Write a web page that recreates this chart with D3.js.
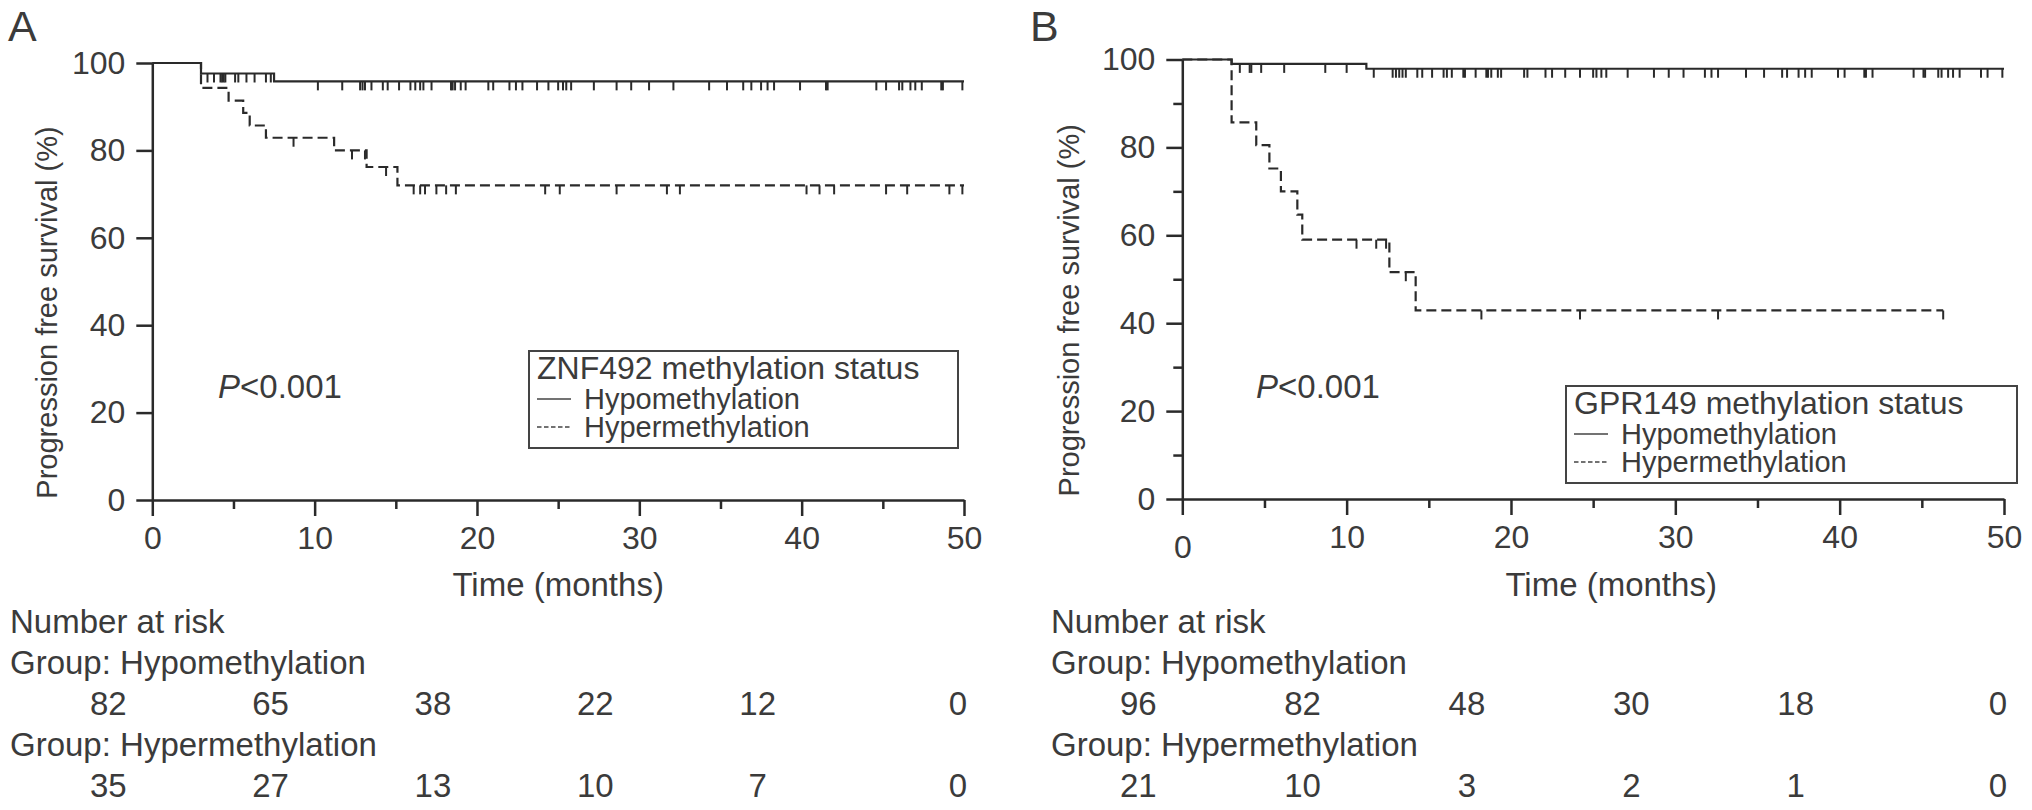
<!DOCTYPE html>
<html>
<head>
<meta charset="utf-8">
<script src="https://cdn.jsdelivr.net/npm/d3@7"></script>
<style>
  body { margin: 0; background: #fff; }
  svg { display: block; }
</style>
</head>
<body>
<div id="chart"></div>
<script>
// ---- data ----
const riskTimes = [0, 10, 20, 30, 40, 50];
const xTicks = [0, 10, 20, 30, 40, 50];
const xMinorTicks = [5, 15, 25, 35, 45];
const yTicks = [0, 20, 40, 60, 80, 100];
const yMinorTicks = [10, 30, 50, 70, 90];

// panel A (ZNF492)
const aHypoSteps = [[3, 97.6], [7.5, 95.8]];
const aHypoEnd = 50;
const aHypoCensor = [3.4, 3.8, 4.2, 4.3, 4.4, 4.5, 5.1, 5.3, 5.8, 6.3, 7.0, 7.3, 10.2, 11.7,
  12.8, 12.95, 13.1, 13.5, 14.2, 14.5, 15.2, 15.9, 16.2, 16.5, 16.7, 17.2, 18.4, 18.5, 18.65,
  19.0, 19.3, 20.7, 21.0, 22.0, 22.4, 22.8, 23.7, 24.4, 25.0, 25.3, 25.5, 25.8, 27.2, 28.6,
  29.5, 30.6, 32.1, 34.3, 35.4, 36.4, 36.9, 37.5, 37.9, 38.3, 39.9, 41.5, 41.6, 44.6, 45.2,
  46.0, 46.2, 46.7, 47.0, 47.4, 48.6, 48.7, 49.9];
const aHyperSteps = [[3, 94.3], [4.7, 91.4], [5.6, 88.6], [6.0, 85.7], [7.0, 82.9],
  [11.2, 80.0], [13.2, 76.2], [15.1, 72.0]];
const aHyperEnd = 50;
const aHyperCensor = [8.7, 12.3, 13.1, 14.4, 16.1, 16.5, 16.8, 17.5, 18.1, 18.7, 24.2, 25.1,
  28.6, 31.7, 32.5, 40.3, 41.1, 42.0, 45.2, 46.5, 49.1, 49.9];
const aRiskHypo = [82, 65, 38, 22, 12, 0];
const aRiskHyper = [35, 27, 13, 10, 7, 0];

// panel B (GPR149)
const bHypoSteps = [[3, 99.0], [11.2, 97.9]];
const bHypoEnd = 50;
const bHypoCensor = [3.5, 4.1, 4.2, 4.8, 6.2, 8.7, 10.0, 11.65, 12.8, 13.0, 13.2, 13.4, 13.6,
  14.3, 14.6, 15.2, 15.9, 16.1, 16.4, 17.1, 17.2, 17.85, 18.5, 18.6, 18.8, 19.2, 19.4, 20.8,
  21.0, 22.1, 22.5, 23.3, 24.2, 25.0, 25.2, 25.5, 25.8, 27.1, 28.7, 29.6, 30.5, 31.8, 32.2,
  32.6, 34.3, 35.4, 36.5, 36.8, 37.5, 37.9, 38.3, 39.9, 40.3, 41.5, 41.6, 42.0, 44.5, 45.1,
  45.2, 46.0, 46.2, 46.6, 46.9, 47.3, 48.6, 49.0, 49.9];
const bHyperSteps = [[3, 85.7], [4.5, 80.5], [5.3, 75.2], [6.0, 70.0], [7.0, 64.7],
  [7.3, 59.0], [12.6, 51.6], [14.2, 42.9]];
const bHyperEnd = 46.3;
const bHyperCensor = [10.6, 11.8, 12.4, 13.6, 18.2, 24.2, 32.6, 46.3];
const bRiskHypo = [96, 82, 48, 30, 18, 0];
const bRiskHyper = [21, 10, 3, 2, 1, 0];

const groupNames = ["Hypomethylation", "Hypermethylation"];

// ---- drawing ----
const W = 2032, H = 810;
const font = "'Liberation Sans', Arial, Helvetica, sans-serif";
const textColor = "#3b3b3b";
const lineColor = "#2a2a2a";
const fs = 33;

const svg = d3.select("#chart").append("svg")
  .attr("width", W)
  .attr("height", H)
  .attr("font-family", font);

function survivalAt(steps, t) {
  let s = 100;
  steps.forEach((d) => { if (d[0] <= t) s = d[1]; });
  return s;
}

function drawPanel(p) {
  const x = d3.scaleLinear().domain([0, 50]).range([p.left, p.right]);
  const y = d3.scaleLinear().domain([0, 100]).range([p.bottom, p.top]);
  const g = svg.append("g");

  // panel letter
  g.append("text")
    .attr("x", p.letterX).attr("y", 41)
    .attr("font-size", 43).attr("fill", textColor)
    .text(p.letter);

  // x axis
  const xAxis = g.append("g")
    .attr("transform", `translate(0,${p.bottom})`)
    .call(d3.axisBottom(x).tickValues(xTicks).tickSize(16).tickSizeOuter(0).tickPadding(10));
  g.append("g")
    .attr("transform", `translate(0,${p.bottom})`)
    .call(d3.axisBottom(x).tickValues(xMinorTicks).tickSize(9).tickFormat(""))
    .call((s) => s.select(".domain").remove());
  xAxis.selectAll("text").filter((d) => d === 0).attr("dy", `${0.71 + p.zeroDrop / 32}em`);

  // y axis
  g.append("g")
    .attr("transform", `translate(${p.left},0)`)
    .call(d3.axisLeft(y).tickValues(yTicks).tickSize(16).tickSizeOuter(0).tickPadding(11));
  if (p.minorY) {
    g.append("g")
      .attr("transform", `translate(${p.left},0)`)
      .call(d3.axisLeft(y).tickValues(yMinorTicks).tickSize(9).tickFormat(""))
      .call((s) => s.select(".domain").remove());
  }

  g.selectAll(".domain, .tick line")
    .attr("stroke", lineColor).attr("stroke-width", 2.5);
  g.selectAll(".tick text")
    .attr("font-size", 32).attr("font-family", font).attr("fill", textColor);

  // axis titles
  g.append("text")
    .attr("transform", `translate(${p.titleX},${(p.top + p.bottom) / 2 + 31}) rotate(-90)`)
    .attr("text-anchor", "middle").attr("dy", "0.35em")
    .attr("font-size", 29).attr("fill", textColor)
    .text("Progression free survival (%)");
  g.append("text")
    .attr("x", (p.left + p.right) / 2 + p.xTitleDx).attr("y", 596)
    .attr("text-anchor", "middle")
    .attr("font-size", fs).attr("fill", textColor)
    .text("Time (months)");

  // curves
  const line = d3.line()
    .x((d) => x(d[0])).y((d) => y(d[1]))
    .curve(d3.curveStepAfter);
  p.series.forEach((s) => {
    const pts = [[0, 100]].concat(s.steps);
    pts.push([s.end, s.steps[s.steps.length - 1][1]]);
    g.append("path")
      .datum(pts)
      .attr("d", line)
      .attr("fill", "none")
      .attr("stroke", lineColor)
      .attr("stroke-width", 2.2)
      .attr("stroke-dasharray", s.dashed ? "10,5" : null);
    g.selectAll(null)
      .data(s.censor)
      .join("line")
      .attr("x1", (t) => x(t)).attr("x2", (t) => x(t))
      .attr("y1", (t) => y(survivalAt(s.steps, t)))
      .attr("y2", (t) => y(survivalAt(s.steps, t)) + 9)
      .attr("stroke", lineColor)
      .attr("stroke-width", 2);
  });

  // p value
  const pv = g.append("text")
    .attr("x", p.pX).attr("y", 398)
    .attr("font-size", fs).attr("fill", textColor);
  pv.append("tspan").attr("font-style", "italic").text("P");
  pv.append("tspan").text("<0.001");

  // legend
  const lb = p.legend;
  g.append("rect")
    .attr("x", lb[0]).attr("y", lb[1])
    .attr("width", lb[2] - lb[0]).attr("height", lb[3] - lb[1])
    .attr("fill", "#fff").attr("stroke", "#444").attr("stroke-width", 2);
  g.append("text")
    .attr("x", lb[0] + 8).attr("y", lb[1] + 28)
    .attr("font-size", 32).attr("fill", textColor)
    .text(p.legendTitle);
  groupNames.forEach((name, i) => {
    const base = lb[1] + 58 + i * 28;
    g.append("line")
      .attr("x1", lb[0] + 8).attr("x2", lb[0] + 42)
      .attr("y1", base - 10).attr("y2", base - 10)
      .attr("stroke", "#444").attr("stroke-width", 1.6)
      .attr("stroke-dasharray", i === 1 ? "4.5,2.5" : null);
    g.append("text")
      .attr("x", lb[0] + 55).attr("y", base)
      .attr("font-size", 29).attr("fill", textColor)
      .text(name);
  });

  // number at risk table
  const rowY = (i) => 633 + i * 41;
  const label = (txt, i) => g.append("text")
    .attr("x", p.tableX).attr("y", rowY(i))
    .attr("font-size", fs).attr("fill", textColor)
    .text(txt);
  label("Number at risk", 0);
  label("Group: " + groupNames[0], 1);
  label("Group: " + groupNames[1], 3);
  [[p.riskHypo, 2], [p.riskHyper, 4]].forEach(([vals, row]) => {
    g.selectAll(null)
      .data(vals)
      .join("text")
      .attr("x", (d, i) => riskTimes[i] === 50 ? x(riskTimes[i]) - 6 : x(riskTimes[i]) - 44)
      .attr("y", rowY(row))
      .attr("text-anchor", "middle")
      .attr("font-size", fs).attr("fill", textColor)
      .text((d) => d);
  });
}

drawPanel({
  letter: "A", letterX: 8,
  left: 152.3, right: 964, top: 63, bottom: 500,
  titleX: 47, xTitleDx: 0, zeroDrop: 0, minorY: false,
  pX: 218,
  legend: [529, 351, 958, 448], legendTitle: "ZNF492 methylation status",
  tableX: 10,
  riskHypo: aRiskHypo, riskHyper: aRiskHyper,
  series: [
    { steps: aHypoSteps, end: aHypoEnd, censor: aHypoCensor, dashed: false },
    { steps: aHyperSteps, end: aHyperEnd, censor: aHyperCensor, dashed: true },
  ],
});

drawPanel({
  letter: "B", letterX: 1030,
  left: 1182.3, right: 2004, top: 59.5, bottom: 499,
  titleX: 1069, xTitleDx: 18, zeroDrop: 10, minorY: true,
  pX: 1256,
  legend: [1566, 386, 2017, 483], legendTitle: "GPR149 methylation status",
  tableX: 1051,
  riskHypo: bRiskHypo, riskHyper: bRiskHyper,
  series: [
    { steps: bHypoSteps, end: bHypoEnd, censor: bHypoCensor, dashed: false },
    { steps: bHyperSteps, end: bHyperEnd, censor: bHyperCensor, dashed: true },
  ],
});
</script>
</body>
</html>
